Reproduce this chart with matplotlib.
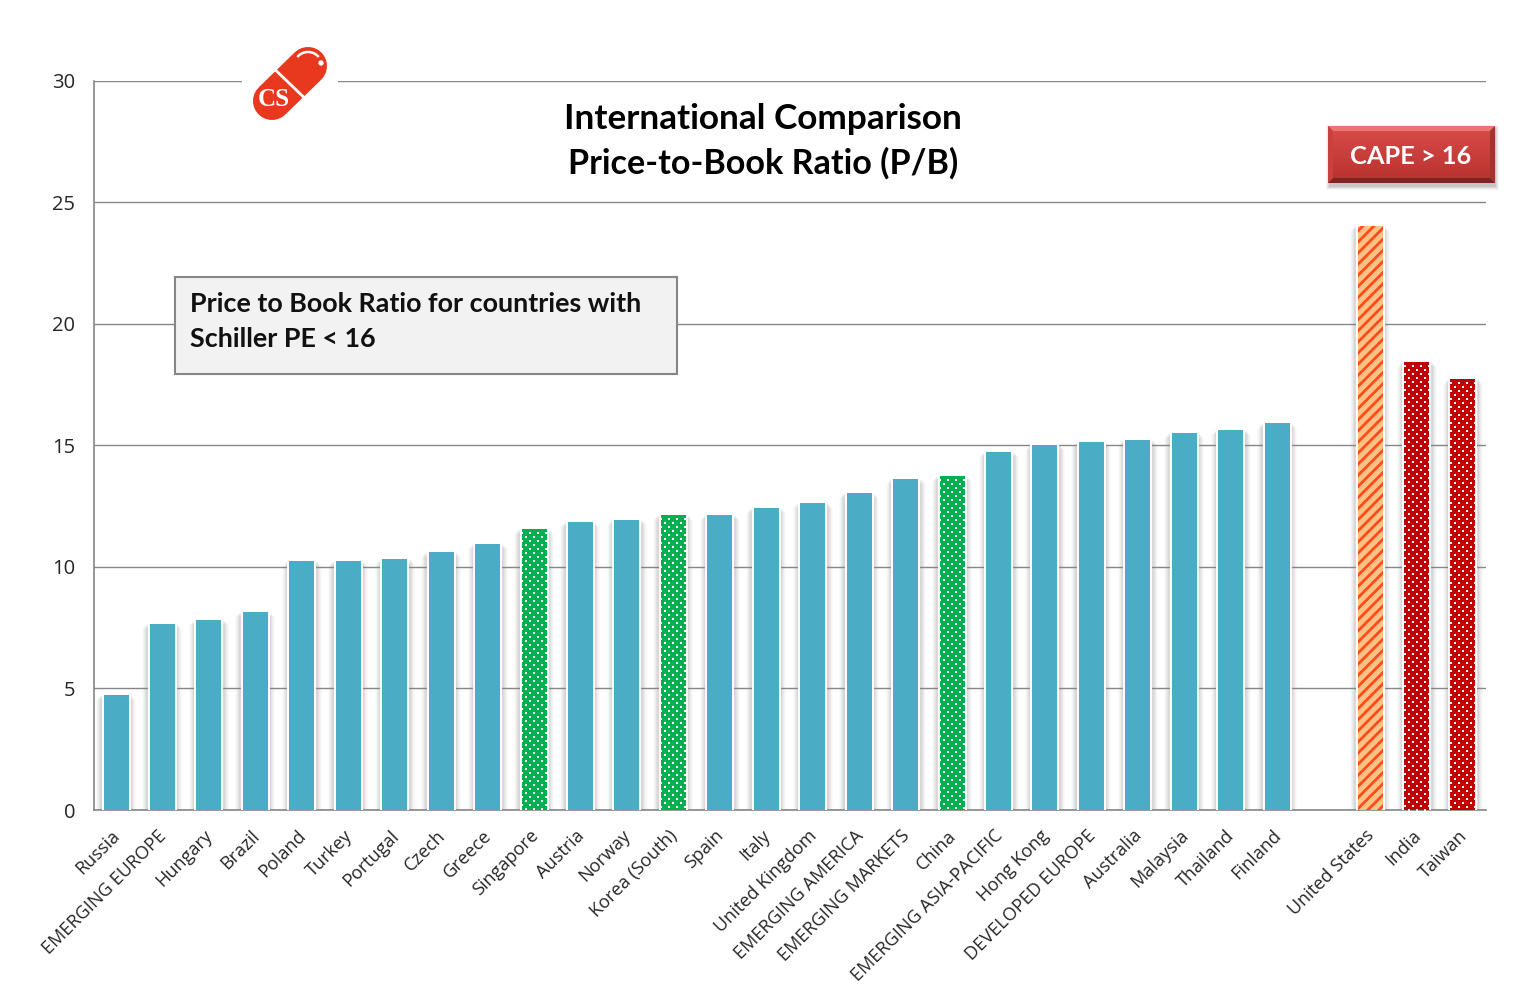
import matplotlib
matplotlib.use('Agg')
import matplotlib.pyplot as plt
import numpy as np
from matplotlib.lines import Line2D
from matplotlib.patches import Polygon, Rectangle, Arc, Circle
from matplotlib.transforms import ScaledTranslation

plt.rcParams['font.family'] = ['Lato', 'DejaVu Sans']
plt.rcParams['hatch.linewidth'] = 2.0

countries = ['Russia', 'EMERGING EUROPE', 'Hungary', 'Brazil', 'Poland', 'Turkey', 'Portugal',
             'Czech', 'Greece', 'Singapore', 'Austria', 'Norway', 'Korea (South)', 'Spain', 'Italy',
             'United Kingdom', 'EMERGING AMERICA', 'EMERGING MARKETS', 'China', 'EMERGING ASIA-PACIFIC',
             'Hong Kong', 'DEVELOPED EUROPE', 'Australia', 'Malaysia', 'Thailand', 'Finland']
pb_values = [4.73, 7.65, 7.82, 8.15, 10.25, 10.25, 10.33, 10.62, 10.95, 11.56, 11.85, 11.93, 12.14,
             12.14, 12.43, 12.63, 13.05, 13.62, 13.74, 14.73, 15.02, 15.14, 15.23, 15.51, 15.64, 15.93]
green_countries = ['Singapore', 'Korea (South)', 'China']

high_countries = ['United States', 'India', 'Taiwan']
high_values = [24.03, 18.44, 17.74]

y_ticks = [0, 5, 10, 15, 20, 25, 30]

GRID = '#868686'
BLUE = '#4BACC6'
GREEN = '#00B050'
RED = '#C00000'

fig = plt.figure(figsize=(15.26, 9.97), dpi=100)
ax = fig.add_axes([94 / 1526, 1 - 810 / 997, 1392 / 1526, 729 / 997])

labels = countries + [''] + high_countries
values = pb_values + [0] + high_values
x = np.arange(len(labels))
step = 46.42  # pixels per category
bar_w = 25 / step


def dotted(i, v):
    # small white dots, staggered, same as the pattern fill
    xs, ys = [], []
    row = 0
    y_px = 4
    while y_px < v * 24.3:
        off = -12 if row % 2 == 0 else -8
        for dx in np.arange(off, 13, 8):
            xs.append(i + dx / step)
            ys.append(v - y_px / 24.3)
        y_px += 4
        row += 1
    ax.scatter(xs, ys, s=1.6, marker='s', color='white', linewidths=0, zorder=5)


# soft shadow + white halo behind every bar
for i, v in zip(x, values):
    if v == 0:
        continue
    for k, (grow, a) in enumerate(zip([15, 13, 11, 9, 7], [0.04, 0.05, 0.07, 0.09, 0.11])):
        ax.bar(i, v - 0.2 + 0.04 * k, width=(25 + grow) / step, color='#888888', alpha=a, linewidth=0, zorder=2)
    ax.bar(i, v + 0.1, width=29 / step, color='white', linewidth=0, zorder=3)

for i, name, v in zip(x, labels, values):
    if v == 0:
        continue
    if name in green_countries:
        ax.bar(i, v, width=bar_w, color=GREEN, linewidth=0, zorder=4)
        dotted(i, v)
    elif name == 'United States':
        ax.bar(i, v, width=bar_w, color='#FFC285', edgecolor='#FF4A1C', hatch='///', linewidth=0, zorder=4)
    elif name in high_countries:
        ax.bar(i, v, width=bar_w, color=RED, linewidth=0, zorder=4)
        dotted(i, v)
    else:
        ax.bar(i, v, width=bar_w, color=BLUE, linewidth=0, zorder=4)

ax.set_xlim(-22 / step, 29 + 23 / step)
ax.set_ylim(0, 30)
ax.set_yticks(y_ticks)
ax.yaxis.grid(True, color=GRID, linewidth=1)
ax.set_axisbelow(True)
ax.set_xticks(x)
ax.set_xticklabels(labels, rotation=45, ha='right', rotation_mode='anchor', fontsize=13.1,
                   color='#262626', family='Open Sans')
ax.tick_params(axis='x', length=0, pad=12)
ax.tick_params(axis='y', length=0, pad=13.5, labelsize=14.5, labelcolor='#262626')
# tick_params resets the label transform, so nudge the labels after it
shift = ScaledTranslation(-5 / 100, 0, fig.dpi_scale_trans)
for lab in ax.get_xticklabels():
    lab.set_transform(lab.get_transform() + shift)
for lab in ax.get_yticklabels():
    lab.set_family('Open Sans')
for side in ['top', 'right']:
    ax.spines[side].set_visible(False)
for side in ['left', 'bottom']:
    ax.spines[side].set_color(GRID)
    ax.spines[side].set_linewidth(1.2)

# overlay in pixel coordinates for the annotations
ov = fig.add_axes([0, 0, 1, 1], zorder=10)
ov.set_xlim(0, 1526)
ov.set_ylim(997, 0)
ov.axis('off')
ov.patch.set_alpha(0)

ov.text(763, 119, 'International Comparison', ha='center', va='center', fontsize=25.3, fontweight='bold', color='black')
ov.text(763, 163, 'Price-to-Book Ratio (P/B)', ha='center', va='center', fontsize=24.6, fontweight='bold', color='black')

# note box
ov.add_patch(Rectangle((175, 277), 502, 97, facecolor='#F2F2F2', edgecolor=GRID, linewidth=1.5))
ov.text(190, 304, 'Price to Book Ratio for countries with', va='center', fontsize=19.4, fontweight='bold', color='#111111')
ov.text(190, 339, 'Schiller PE < 16', va='center', fontsize=19.4, fontweight='bold', color='#111111')

# logo
ov.add_patch(Rectangle((242, 74), 96, 14, facecolor='white', edgecolor='none'))
ov.add_line(Line2D([272, 308], [101, 66], color='#E8391F', linewidth=27.4, solid_capstyle='round', zorder=2))
ov.add_line(Line2D([275.5, 303.5], [70, 97], color='white', linewidth=2, zorder=3))
ov.add_patch(Arc((308, 66), 28, 28, angle=0, theta1=220, theta2=320, color='white', linewidth=1.8, zorder=3))
ov.add_patch(Circle((321, 63), 2, color='white', zorder=3))
ov.text(273.5, 99.5, 'CS', ha='center', va='center', fontsize=18, fontweight='bold', family='Liberation Serif',
        color='white', zorder=4)

# CAPE badge
for grow, a in zip([6, 4, 2, 0], [0.06, 0.09, 0.12, 0.16]):
    ov.add_patch(Rectangle((1329 - grow / 2, 128 - grow / 2), 167 + grow, 59 + grow, facecolor='#666666', alpha=a,
                           edgecolor='none', zorder=1))
grad = np.linspace(0, 1, 64).reshape(-1, 1)
c_top, c_bot = np.array([0.85, 0.30, 0.29]), np.array([0.72, 0.19, 0.18])
img = c_top[None, None, :] * (1 - grad[..., None]) + c_bot[None, None, :] * grad[..., None]
ov.imshow(img, extent=(1328, 1495, 183, 126), aspect='auto', zorder=2)
bx0, bx1, by0, by1, b = 1328, 1495, 126, 183, 5
ov.add_patch(Polygon([(bx0, by0), (bx1, by0), (bx1 - b, by0 + b), (bx0 + b, by0 + b)], color='#EC7472', linewidth=0, zorder=3))
ov.add_patch(Polygon([(bx0, by1), (bx1, by1), (bx1 - b, by1 - b), (bx0 + b, by1 - b)], color='#7E2524', linewidth=0, zorder=3))
ov.add_patch(Polygon([(bx0, by0), (bx0 + b, by0 + b), (bx0 + b, by1 - b), (bx0, by1)], color='#C9403E', linewidth=0, zorder=3))
ov.add_patch(Polygon([(bx1, by0), (bx1 - b, by0 + b), (bx1 - b, by1 - b), (bx1, by1)], color='#A53231', linewidth=0, zorder=3))
ov.text(1410.5, 156, 'CAPE > 16', ha='center', va='center', fontsize=18.3, fontweight='bold', color='white', zorder=4)
ov.set_xlim(0, 1526)
ov.set_ylim(997, 0)

fig.savefig('out.png', dpi=100, facecolor='white')
